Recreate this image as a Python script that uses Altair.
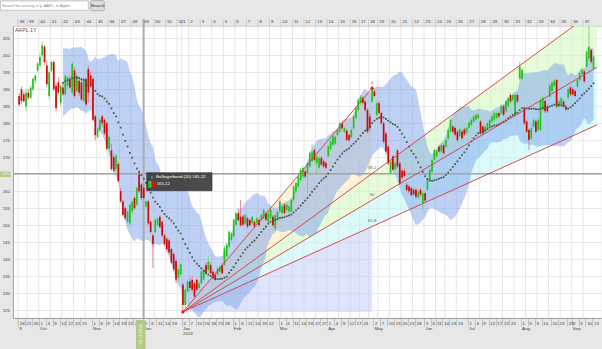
import json
import altair as alt
import pandas as pd

# ---------------- trading calendar (German exchange, EUR quote) ----------------
HOLIDAYS = ["2018-12-24", "2018-12-25", "2018-12-26", "2018-12-31", "2019-01-01",
            "2019-04-19", "2019-04-22", "2019-05-01", "2019-06-10"]
days = pd.bdate_range("2018-09-18", "2019-09-13")
days = days[~days.isin(pd.to_datetime(HOLIDAYS))]
N = len(days)
pos = {d.strftime("%Y-%m-%d"): i for i, d in enumerate(days)}

# ---------------- daily candles ----------------
opens = [
    188, 190, 188.5, 185, 189, 187.5, 190, 192.5, 195.5, 197,
    200, 202.5, 197, 188, 195.5, 198, 191, 192, 186, 190.5,
    188.5, 191, 193, 189, 195.5, 189.5, 192.5, 192, 186.5, 193,
    196, 194, 193, 182, 176, 178, 182, 181, 180, 172.5,
    172, 170, 166.5, 168, 160, 157, 155, 151, 150.5, 154,
    158, 156, 165, 162, 161, 155.5, 157, 151, 147, 148,
    150, 152.5, 151, 147, 146, 145.5, 143, 141.5, 139.5, 134.5,
    135.5, 132.5, 126.5, 130.5, 133.5, 133.9, 132.9, 133.9, 131.5, 132.9,
    134, 138.3, 136.8, 138.3, 136.3, 135.4, 135.4, 136.3, 138.3, 138.3,
    140.8, 143.7, 145.7, 146.7, 150.1, 153.5, 152.5, 152.5, 150.5, 152,
    151.5, 150.6, 151, 150.6, 151.5, 151.6, 152, 153.5, 151, 152,
    152.5, 149, 151.6, 154, 153.6, 156, 154.5, 154, 154, 157.5,
    159.9, 161.4, 163.3, 164.3, 165.8, 165.3, 167.3, 168.8, 172.1, 168.2,
    166.9, 169.8, 168.8, 168.3, 170.3, 172.3, 173.7, 174, 176.5, 177.5,
    180, 177.5, 177.8, 176.5, 175.8, 178.5, 181.5, 183.9, 185.9, 187.5,
    186.4, 183.9, 182, 186.4, 189.3, 182.4, 185.9, 183, 180, 177,
    173.1, 165.3, 170.2, 166.5, 172, 168.2, 166, 166, 161.9, 161.4,
    160.9, 160.4, 160.4, 158.2, 160.4, 156.5, 159.4, 160.4, 163.3, 165.7,
    169.2, 170.2, 173.1, 171.7, 173.5, 173.1, 175.5, 177.5, 179, 178.6,
    177.5, 176.2, 177.6, 178.2, 177.2, 178.6, 179.5, 180.5, 181, 181.5,
    180.5, 179, 177.5, 178.5, 179, 180.5, 181, 181.5, 183, 182.9,
    185, 183.5, 185, 188.3, 186.8, 182.5, 188.3, 193.2, 193, 184.4,
    180.5, 178, 175.5, 179, 180.5, 178, 178, 184, 186.5, 185,
    187.8, 189.5, 191, 192.7, 184.9, 185.5, 186.4, 185, 187.5, 190.5,
    190, 189.5, 190.8, 192.7, 194.5, 195.2, 196.7, 199, 201.6, 196,
]
highs = [
    188.8, 190.8, 189.5, 190, 190, 191, 193.5, 194.5, 198, 200.5,
    204, 203, 198.5, 195.5, 198.5, 198.5, 192, 193.5, 191.5, 191.5,
    194.5, 194, 194, 198, 196.5, 194.5, 193.5, 193, 193.5, 193.5,
    197, 195, 193.5, 182.5, 179, 181.5, 182.5, 181.5, 180.5, 176.5,
    174, 171, 171, 168.5, 161, 157.5, 155.5, 154.5, 156.5, 157.5,
    158.5, 161.5, 166.5, 162.5, 162, 157.5, 157.5, 151.5, 147.5, 152,
    152.5, 153, 151.5, 147.5, 146.5, 146, 143.5, 142, 140, 137.5,
    139, 133, 131.5, 134, 134.5, 135, 133.5, 134.5, 133.5, 137,
    137.5, 139, 141, 139, 137, 136, 137.8, 138.3, 139, 143.8,
    144.8, 148.6, 148, 152, 154, 155, 157.4, 153, 153.5, 152.5,
    152, 153, 151.5, 152.5, 152, 153.5, 155, 154, 154, 155,
    153, 153.5, 154.5, 157.5, 156, 156.5, 156.5, 156, 158, 162,
    162.9, 164.8, 166.8, 167.3, 166.3, 168.7, 171.7, 174, 172.6, 170.7,
    170.3, 170.3, 169.3, 168.8, 173.7, 175.2, 176.7, 176.5, 178.6, 180.5,
    180.8, 179.1, 178.3, 177, 178.5, 182.5, 184.9, 187.4, 188.3, 188,
    186.9, 184.4, 183, 190.3, 190, 186.4, 186.4, 183.5, 180.5, 177.5,
    173.6, 169.2, 170.7, 168.8, 172.5, 168.7, 166.5, 166.8, 162.4, 161.9,
    161.4, 160.9, 160.9, 160.4, 160.9, 159.9, 159.9, 163.8, 166.8, 169.7,
    172.6, 172.5, 173.6, 174.1, 174, 175.6, 178.5, 181.5, 179.5, 179.1,
    178, 178.7, 178.1, 178.7, 179.1, 180.7, 181.5, 182.5, 183, 183,
    181, 179.5, 179.5, 180.5, 181.5, 182.5, 183.5, 183.5, 183.5, 185.5,
    185.5, 187, 187.9, 188.8, 188.8, 188.8, 188.8, 198, 196.2, 184.9,
    181, 178.5, 179, 181.5, 181, 181.5, 187.3, 188, 187, 185.5,
    191.7, 192.5, 193, 193.2, 186.9, 187.9, 186.9, 185.5, 190.5, 191,
    190.5, 190, 193.2, 195.2, 196.2, 195.7, 201.5, 208.5, 202.1, 200.1,
]
lows = [
    185, 185.5, 186, 183.5, 187, 187, 189.5, 191.5, 195, 196.5,
    199.5, 197, 190.5, 187, 195, 189.5, 183.5, 188.5, 185, 188,
    188, 190, 190, 188.5, 187.5, 189, 188, 186.5, 186, 185,
    186, 190.5, 180.5, 175, 175.5, 177.5, 179, 176.5, 172, 170.5,
    166, 165.5, 166, 162.5, 156.5, 152.5, 151.5, 150.5, 150, 153.5,
    154.5, 155.5, 159.5, 157.5, 157.5, 155, 150, 147.5, 137.5, 147.5,
    149.5, 149, 146.5, 144, 142.5, 141.5, 138.5, 136.5, 133, 133.5,
    135, 124.5, 125.5, 130, 130.5, 130.5, 128.5, 130.5, 131, 132.5,
    133.5, 135.5, 136, 135.5, 134, 133.5, 135, 136, 135.5, 138,
    140.3, 143.2, 145.2, 146.2, 149.6, 151, 149.5, 149.6, 150, 149.1,
    149.5, 150.1, 149.1, 150.1, 149.5, 151.1, 151.5, 151.1, 150.5, 151.5,
    149.5, 148.5, 151.1, 153.5, 153.1, 153.1, 154, 153.5, 153.5, 157,
    159.4, 160.9, 162.8, 163.8, 163.8, 159.4, 166.8, 168.3, 168.7, 164.8,
    166.4, 167.3, 166.8, 166.4, 169.8, 171.8, 173.2, 173.5, 176, 177,
    178, 177, 174.6, 174.5, 175.3, 178, 181, 183.4, 185.4, 185.5,
    183.4, 177, 177.5, 185.9, 187.5, 181.9, 182.5, 179.5, 174.1, 171.2,
    167.7, 164.8, 165.8, 166, 166.8, 161.8, 163.5, 164, 159.9, 159.5,
    158.4, 158.6, 157.9, 157.8, 158.5, 154.5, 156.8, 159.9, 162.8, 165.2,
    168.7, 169.7, 171.2, 171.2, 170.7, 172.6, 175, 177, 177, 176.1,
    174.5, 175.7, 175.1, 176.2, 176.7, 178.1, 179, 180, 180.5, 181,
    176.5, 176.5, 177, 178, 178.5, 180, 180.5, 181, 181.5, 182.4,
    182, 183, 184.5, 185.9, 186.3, 182, 185.9, 192.7, 192.5, 179.5,
    177, 172.1, 175, 178.5, 177, 177.5, 177.5, 183.5, 183, 183,
    187.3, 189, 190.5, 184.4, 184.4, 185, 184.4, 183.5, 187, 188,
    188, 187.5, 190.3, 192.2, 194, 191.8, 196.2, 198.5, 197.6, 195.5,
]
closes = [
    185.5, 186.5, 186.5, 189, 187.5, 190.5, 193, 194, 197.5, 199.5,
    203, 198, 191.5, 195, 198, 190, 184.5, 189, 191, 188.5,
    194, 193.5, 190.5, 197.5, 188, 194, 189, 187, 193, 185.5,
    189, 191, 181, 176.5, 178.5, 181, 180, 177, 172.5, 176,
    166.5, 166, 170.5, 163, 157, 153, 152, 154, 156, 157,
    155, 161, 160, 158, 158, 157, 150.5, 148, 144.5, 151.5,
    152, 149.5, 147, 144.5, 143, 142, 139, 137, 134, 137,
    138.5, 126.5, 131, 133.4, 131.5, 131, 129, 131, 132.9, 136.4,
    136.9, 135.9, 139.3, 135.9, 134.4, 133.9, 137.3, 137.8, 135.9, 143.2,
    144.2, 148.1, 147.6, 151.6, 153.5, 151.5, 150, 150.1, 153, 149.6,
    150, 152.5, 149.6, 152, 150, 153, 154.5, 151.6, 153.5, 154.5,
    150, 153, 154, 157, 155.5, 153.6, 156, 155.5, 157.5, 161.4,
    162.4, 164.3, 166.3, 166.8, 164.3, 168.2, 171.2, 171.7, 169.2, 170.2,
    169.8, 167.8, 167.3, 166.9, 173.2, 174.7, 176.2, 176, 178.1, 180,
    178.5, 178.6, 175.1, 175, 178, 182, 184.4, 186.9, 187.8, 186,
    183.9, 177.5, 178.5, 189.8, 188, 185.9, 183, 180, 174.6, 171.7,
    168.2, 168.7, 166.3, 168.3, 167.3, 162.3, 164, 164.5, 160.4, 160,
    158.9, 159.1, 158.4, 159.9, 159, 159.4, 157.3, 163.3, 166.3, 169.2,
    172.1, 172, 171.7, 173.6, 171.2, 175.1, 178, 181, 177.5, 176.6,
    175, 178.2, 175.6, 176.7, 178.6, 180.2, 181, 182, 182.5, 182.5,
    177, 177, 179, 180, 181, 182, 183, 183, 182, 185,
    182.5, 186.5, 187.4, 186.4, 188.3, 188.3, 186.4, 196.6, 195.7, 180,
    177.5, 175.1, 178.5, 181, 177.5, 181, 186.8, 187.5, 183.5, 183.5,
    191.2, 192, 192.5, 184.9, 186.4, 187.4, 184.9, 184, 190, 188.5,
    188.5, 188, 192.7, 194.7, 195.7, 192.3, 201, 202.5, 198.1, 199.6,
]

# ---------------- Fibonacci fan ----------------
FAN_LEVELS = ["0", "38.2", "50", "61.8"]
FAN_START = (71, 124.5)          # Jan-low anchor (trading-day index, price)
FAN_HIGH_IDX = 153               # Apr/May-high anchor index
FAN_AT_HIGH = [190.3, 165.2, 157.4, 149.6]
FAN_END_IDX = 250.5
FAN_AT_END = [None, 213.6, 196.5, 179.5]

# ---------------- crosshair / tooltip ----------------
CROSS_IDX = 54
CROSS_PRICE = 165.12

# ---------------- axis labels ----------------
DAY_TICKS = [
    "2018-09-18", "2018-09-21", "2018-09-26", "2018-10-01", "2018-10-04", "2018-10-09",
    "2018-10-12", "2018-10-17", "2018-10-22", "2018-10-25", "2018-11-01", "2018-11-06",
    "2018-11-09", "2018-11-14", "2018-11-19", "2018-11-22", "2018-11-27", "2018-12-03",
    "2018-12-06", "2018-12-11", "2018-12-14", "2018-12-19", "2019-01-02", "2019-01-07",
    "2019-01-10", "2019-01-15", "2019-01-18", "2019-01-23", "2019-01-28", "2019-02-01",
    "2019-02-06", "2019-02-11", "2019-02-14", "2019-02-19", "2019-02-22", "2019-03-01",
    "2019-03-06", "2019-03-11", "2019-03-14", "2019-03-19", "2019-03-22", "2019-03-27",
    "2019-04-01", "2019-04-04", "2019-04-09", "2019-04-12", "2019-04-17", "2019-04-24",
    "2019-05-02", "2019-05-07", "2019-05-10", "2019-05-15", "2019-05-20", "2019-05-23",
    "2019-05-28", "2019-06-03", "2019-06-06", "2019-06-11", "2019-06-14", "2019-06-19",
    "2019-06-24", "2019-07-01", "2019-07-04", "2019-07-09", "2019-07-12", "2019-07-17",
    "2019-07-22", "2019-07-25", "2019-08-01", "2019-08-06", "2019-08-09", "2019-08-14",
    "2019-08-20", "2019-08-23", "2019-08-29", "2019-09-02", "2019-09-05", "2019-09-10",
    "2019-09-13",
]
MONTH_DATES = ["2018-09-18", "2018-10-01", "2018-11-01", "2018-12-03", "2019-01-02",
               "2019-02-01", "2019-03-01", "2019-04-01", "2019-05-02", "2019-06-03",
               "2019-07-01", "2019-08-01", "2019-09-02"]
MONTH_NAMES = ["9", "Oct", "Nov", "Dec", "Jan", "Feb", "Mar", "Apr", "May", "Jun",
               "Jul", "Aug", "Sep"]
YEAR_DATES = ["2019-01-02"]
YEAR_NAMES = ["2019"]
PRICE_TICKS = list(range(125, 206, 5))

# ---------------- frames ----------------
candles = pd.DataFrame({"idx": list(range(N)), "o": opens, "h": highs, "l": lows, "c": closes})

day_text = [""] * N
for d in DAY_TICKS:
    day_text[pos[d]] = str(int(d[-2:]))
tick_vals = [pos[d] - 0.5 for d in DAY_TICKS]

iso = days.isocalendar()
wk = pd.DataFrame({"idx": range(N), "yr": iso.year.values, "wk": iso.week.values})
wk = wk.groupby(["yr", "wk"], as_index=False)["idx"].min().sort_values("idx")
weeks = pd.DataFrame({"xw": wk["idx"].values - 0.5, "lbl": wk["wk"].astype(str).values})

months = pd.DataFrame({"xm": [pos[d] - 0.5 for d in MONTH_DATES], "lbl": MONTH_NAMES})
years = pd.DataFrame({"xm": [pos[d] - 0.5 for d in YEAR_DATES], "lbl": YEAR_NAMES})

fan_lines = pd.DataFrame({
    "lvl": FAN_LEVELS,
    "x": [FAN_START[0]] * 4,
    "y": [FAN_START[1]] * 4,
    "x2": [FAN_HIGH_IDX, FAN_END_IDX, FAN_END_IDX, FAN_END_IDX],
    "y2": [FAN_AT_HIGH[0], FAN_AT_END[1], FAN_AT_END[2], FAN_AT_END[3]],
})
fan_lbl = pd.DataFrame({"x": [FAN_HIGH_IDX] * 4, "y": FAN_AT_HIGH, "t": FAN_LEVELS})
fan_pts = pd.DataFrame({"x": [FAN_START[0], FAN_HIGH_IDX], "y": [FAN_START[1], FAN_AT_HIGH[0]]})

fill_rows = []
def add_zone(name, xe, top_e, bot_e):
    fill_rows.append({"zone": name, "x": FAN_START[0], "top": FAN_START[1], "bot": FAN_START[1]})
    fill_rows.append({"zone": name, "x": xe, "top": top_e, "bot": bot_e})
add_zone("a", FAN_HIGH_IDX, FAN_AT_HIGH[0], FAN_AT_HIGH[1])
add_zone("b", FAN_END_IDX, FAN_AT_END[1], FAN_AT_END[2])
add_zone("c", FAN_END_IDX, FAN_AT_END[2], FAN_AT_END[3])
add_zone("d", FAN_HIGH_IDX, FAN_AT_HIGH[3], FAN_START[1])
fills = pd.DataFrame(fill_rows)

cross = pd.DataFrame({"x": [CROSS_IDX], "y": [CROSS_PRICE]})
one = pd.DataFrame({"a": [0]})

# ---------------- scales / axes ----------------
FONT = "Liberation Sans"
AXF = 4.4
XS = alt.Scale(domain=[-0.5, 250.5], nice=False, zero=False)
YS = alt.Scale(domain=[122.7, 208.6], nice=False, zero=False)
XAX = alt.Axis(values=tick_vals, labelExpr=f"{json.dumps(day_text)}[round(datum.value + 0.5)]",
               grid=False, tickSize=8, tickColor="#a8a8a8", tickWidth=0.6,
               labelFontSize=AXF, labelColor="#3c3c3c", labelAlign="left", labelOffset=1.2,
               labelBaseline="middle", labelPadding=-2.7, labelFlush=False,
               labelOverlap=False, domainColor="#9a9a9a", domainWidth=0.8, title=None)
YAX = alt.Axis(values=PRICE_TICKS, grid=True, gridColor="#e3e3e3", gridWidth=0.8,
               ticks=False, labelFontSize=AXF, labelColor="#3c3c3c", labelPadding=3.5,
               labelOverlap=False, domainColor="#9a9a9a", domainWidth=0.8, title=None)

def X(f):
    return alt.X(f, type="quantitative", scale=XS, axis=XAX)

def Y(f):
    return alt.Y(f, type="quantitative", scale=YS, axis=YAX, stack=None)

# ---------------- layers ----------------
week_grid = alt.Chart(weeks).mark_rule(color="#e0e0e0", strokeWidth=0.8).encode(x=X("xw"))

fan_fill = alt.Chart(fills).mark_area(clip=True, opacity=0.6).encode(
    x=X("x"), y=Y("top"), y2="bot", detail="zone:N",
    color=alt.Color("zone:N", legend=None,
                    scale=alt.Scale(domain=["a", "b", "c", "d"],
                                    range=["#ffedc0", "#d4f8c0", "#c5f7f7", "#c6d2f8"])))

bb = alt.Chart(candles).transform_window(
    window=[alt.WindowFieldDef(op="mean", field="c", **{"as": "mid"}),
            alt.WindowFieldDef(op="stdevp", field="c", **{"as": "sd"}),
            alt.WindowFieldDef(op="count", **{"as": "n"})],
    frame=[-19, 0],
    sort=[alt.SortField("idx", order="ascending")],
).transform_filter("datum.n >= 20").transform_calculate(
    up="datum.mid + 2 * datum.sd", lo="datum.mid - 2 * datum.sd")

bb_band = bb.mark_area(color="#7da3ec", opacity=0.5, interpolate="monotone").encode(
    x=X("idx"), y=Y("up"), y2="lo")
bb_mid = bb.mark_square(size=3, color="#46553f", opacity=1).encode(x=X("idx"), y=Y("mid"))

cross_h = alt.Chart(cross).mark_rule(color="#a5a5a5", strokeWidth=1.5).encode(y=Y("y"))
cross_v = alt.Chart(cross).mark_rule(color="#adadad", strokeWidth=1.8).encode(
    x=X("x"), y=alt.value(-7), y2=alt.value(292))

cd = alt.Chart(candles).transform_calculate(dir="datum.c >= datum.o ? 'up' : 'down'")
wicks = cd.mark_rule(strokeWidth=0.8).encode(
    x=X("idx"), y=Y("l"), y2="h",
    color=alt.Color("dir:N", legend=None,
                    scale=alt.Scale(domain=["up", "down"], range=["#6fd36f", "#d96a6a"])))
bodies = cd.mark_bar(width=1.7).encode(
    x=X("idx"), y=Y("o"), y2="c",
    color=alt.Color("dir:N", legend=None,
                    scale=alt.Scale(domain=["up", "down"], range=["#1fc41f", "#cc0a0a"])))

fan_rules = alt.Chart(fan_lines).mark_rule(color="#d63a3a", strokeWidth=0.9, clip=True).encode(
    x=X("x"), x2="x2", y=Y("y"), y2="y2")
fan_dots = alt.Chart(fan_pts).mark_circle(size=11, color="#dd1f1f", opacity=1).encode(
    x=X("x"), y=Y("y"))
fan_text = alt.Chart(fan_lbl).mark_text(fontSize=4.4, color="#666", dy=-5.5, font=FONT).encode(
    x=X("x"), y=Y("y"), text="t:N")

title_txt = alt.Chart(one).mark_text(text="AAPL 1Y", fontSize=5.4, color="#555", align="left",
                                     baseline="middle", font=FONT).encode(
    x=alt.value(2), y=alt.value(4.3))

week_lbls = alt.Chart(weeks).mark_text(fontSize=AXF, color="#3c3c3c", align="left",
                                       baseline="middle", dx=1.5, font=FONT).encode(
    x=X("xw"), y=alt.value(-4), text="lbl:N")
week_seps = alt.Chart(weeks).mark_rule(color="#b9b9b9", strokeWidth=0.6).encode(
    x=X("xw"), y=alt.value(-7), y2=alt.value(0))

month_txt = alt.Chart(months).mark_text(fontSize=AXF, color="#3c3c3c", align="left",
                                        baseline="middle", dx=1.2, font=FONT).encode(
    x=X("xm"), y=alt.value(302.5), text="lbl:N")
year_txt = alt.Chart(years).mark_text(fontSize=AXF, color="#3c3c3c", align="left",
                                      baseline="middle", dx=1.2, font=FONT).encode(
    x=X("xm"), y=alt.value(307.8), text="lbl:N")

search_box = alt.Chart(one).mark_rect(fill="white", stroke="#a9a9a9", strokeWidth=0.6).encode(
    x=alt.value(-12.5), x2=alt.value(75.3), y=alt.value(-25), y2=alt.value(-15.8))
search_txt = alt.Chart(one).mark_text(text="Search for security, e.g. AAPL, or Apple", fontSize=3.9,
                                      color="#858585", align="left", baseline="middle",
                                      font=FONT).encode(x=alt.value(-11), y=alt.value(-20.4))
btn = alt.Chart(one).mark_rect(fill="#dedede", stroke="#8f8f8f", strokeWidth=0.6,
                               cornerRadius=1.5).encode(
    x=alt.value(77.7), x2=alt.value(91.3), y=alt.value(-25.3), y2=alt.value(-15.3))
btn_txt = alt.Chart(one).mark_text(text="Search", fontSize=4.3, color="#222", align="center",
                                   baseline="middle", font=FONT).encode(
    x=alt.value(84.5), y=alt.value(-20.3))

ycross_box = alt.Chart(one).mark_rect(fill="#b5c98a").encode(
    x=alt.value(-13), x2=alt.value(-2.5), y=alt.value(145.5), y2=alt.value(151))
ycross_txt = alt.Chart(one).mark_text(text="165", fontSize=4, color="#f4f8ea", align="center",
                                      baseline="middle", font=FONT).encode(
    x=alt.value(-7.7), y=alt.value(148.3))
xcross_box = alt.Chart(one).mark_rect(fill="#b3c987").encode(
    x=alt.value(123), x2=alt.value(132.5), y=alt.value(294), y2=alt.value(323))
xcross_txt = alt.Chart(one).mark_text(text="03.12.2018", fontSize=4, color="white", angle=270,
                                      align="center", baseline="middle", font=FONT).encode(
    x=alt.value(127.8), y=alt.value(308.5))

tip_box = alt.Chart(one).mark_rect(fill="#3c3c3c", opacity=0.92, stroke="#1e1e1e",
                                   strokeWidth=0.6).encode(
    x=alt.value(133.7), x2=alt.value(199), y=alt.value(146.7), y2=alt.value(164.7))
tip_icon1 = alt.Chart(one).mark_rect(fill="#8d9b62").encode(
    x=alt.value(138), x2=alt.value(139.8), y=alt.value(150.4), y2=alt.value(152.2))
tip_txt1 = alt.Chart(one).mark_text(text="Bollingerband (20) 165,12", fontSize=4.3, color="white",
                                    align="left", baseline="middle", font=FONT).encode(
    x=alt.value(143), y=alt.value(151.3))
tip_icon_g = alt.Chart(one).mark_rect(fill="#2ecc2e").encode(
    x=alt.value(135.3), x2=alt.value(138.7), y=alt.value(155), y2=alt.value(161.7))
tip_icon_r = alt.Chart(one).mark_rect(fill="#dd1111").encode(
    x=alt.value(138.7), x2=alt.value(142), y=alt.value(155), y2=alt.value(161.7))
tip_txt2 = alt.Chart(one).mark_text(text="165,12", fontSize=4.3, color="white", align="left",
                                    baseline="middle", font=FONT).encode(
    x=alt.value(143.7), y=alt.value(158.3))

chart = alt.layer(
    week_grid, fan_fill, bb_band, cross_h, cross_v, wicks, bodies, bb_mid,
    fan_rules, fan_dots, fan_text, title_txt, week_seps, week_lbls, month_txt, year_txt,
    search_box, search_txt, btn, btn_txt, ycross_box, ycross_txt, xcross_box, xcross_txt,
    tip_box, tip_icon1, tip_txt1, tip_icon_g, tip_icon_r, tip_txt2,
).resolve_scale(color="independent").properties(
    width=589, height=292,
    padding={"left": 13, "top": 26, "right": 0, "bottom": 31},
    autosize=alt.AutoSizeParams(type="none"),
    background="#e7e7e7",
).configure(font=FONT).configure_view(fill="white", stroke="#c4c4c4", strokeWidth=0.8)

chart.save("out.html", embed_options={"renderer": "svg", "actions": False})
